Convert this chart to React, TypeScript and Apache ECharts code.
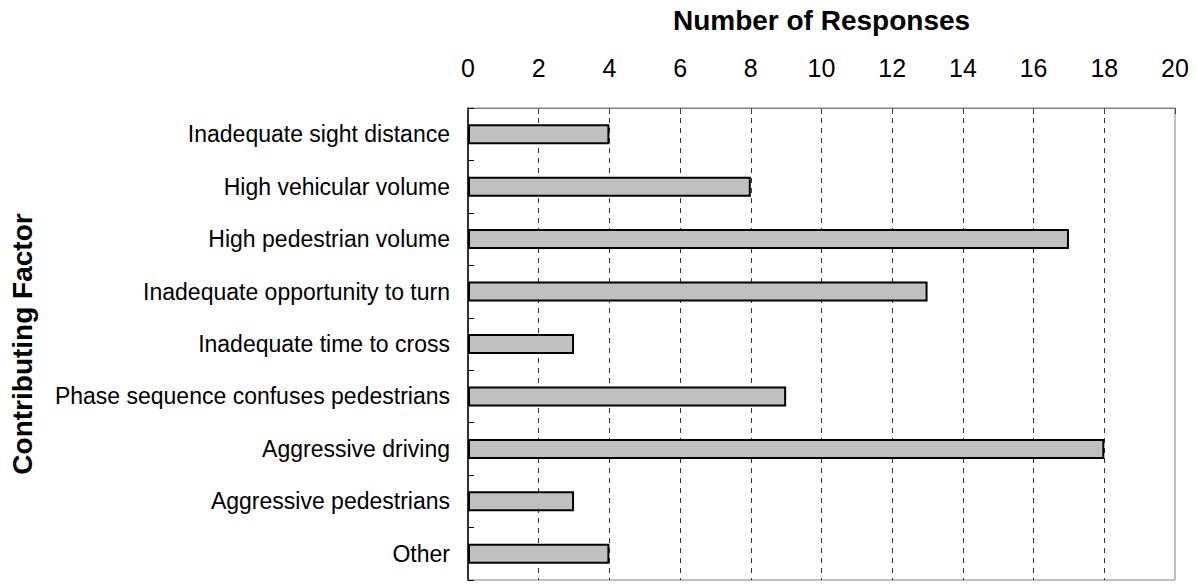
import React, { useEffect, useRef } from "react";
import * as echarts from "echarts";

const categories = [
  "Inadequate sight distance",
  "High vehicular volume",
  "High pedestrian volume",
  "Inadequate opportunity to turn",
  "Inadequate time to cross",
  "Phase sequence confuses pedestrians",
  "Aggressive driving",
  "Aggressive pedestrians",
  "Other",
];
const responses = [4, 8, 17, 13, 3, 9, 18, 3, 4];
const xTitle = "Number of Responses";
const yTitle = "Contributing Factor";

export default function App() {
  const ref = useRef<HTMLDivElement>(null);
  useEffect(() => {
    if (!ref.current) return;
    const chart = echarts.init(ref.current, null, { renderer: "svg" });
    const font = "'Liberation Sans', Arial, sans-serif";
    chart.setOption({
      animation: false,
      textStyle: { fontFamily: font },
      grid: {
        left: 468,
        right: 22,
        top: 108,
        bottom: 4,
        show: true,
        borderColor: "#808080",
        borderWidth: 1,
        backgroundColor: "#ffffff",
      },
      xAxis: {
        type: "value",
        position: "top",
        min: 0,
        max: 20,
        interval: 2,
        name: xTitle,
        nameLocation: "middle",
        nameGap: 74,
        nameTextStyle: { fontSize: 28, fontWeight: "bold", color: "#000", fontFamily: font },
        axisLine: { show: true, lineStyle: { color: "#808080", width: 1 } },
        axisTick: { show: true, inside: true, length: 6, lineStyle: { color: "#404040" } },
        axisLabel: { fontSize: 25, color: "#000", margin: 28, fontFamily: font },
        splitLine: {
          show: true,
          showMinLine: false,
          showMaxLine: false,
          lineStyle: { color: "#333", type: [5, 5], width: 1 },
        },
      },
      yAxis: {
        type: "category",
        data: categories,
        inverse: true,
        name: yTitle,
        nameLocation: "middle",
        nameRotate: 90,
        nameGap: 432,
        nameTextStyle: { fontSize: 28, fontWeight: "bold", color: "#000", fontFamily: font },
        axisLine: { show: true, lineStyle: { color: "#000", width: 1.5 } },
        axisTick: { show: true, inside: true, length: 6, lineStyle: { color: "#000" } },
        axisLabel: { fontSize: 23, color: "#000", margin: 18, fontFamily: font },
        splitLine: { show: false },
      },
      series: [
        {
          type: "bar",
          data: responses,
          barWidth: 20,
          itemStyle: { color: "#c0c0c0", borderColor: "#000", borderWidth: 2 },
        },
      ],
    });
    return () => chart.dispose();
  }, []);
  return (
    <div
      ref={ref}
      style={{ position: "fixed", left: 0, top: 0, width: 1197, height: 584, background: "#fff" }}
    />
  );
}
